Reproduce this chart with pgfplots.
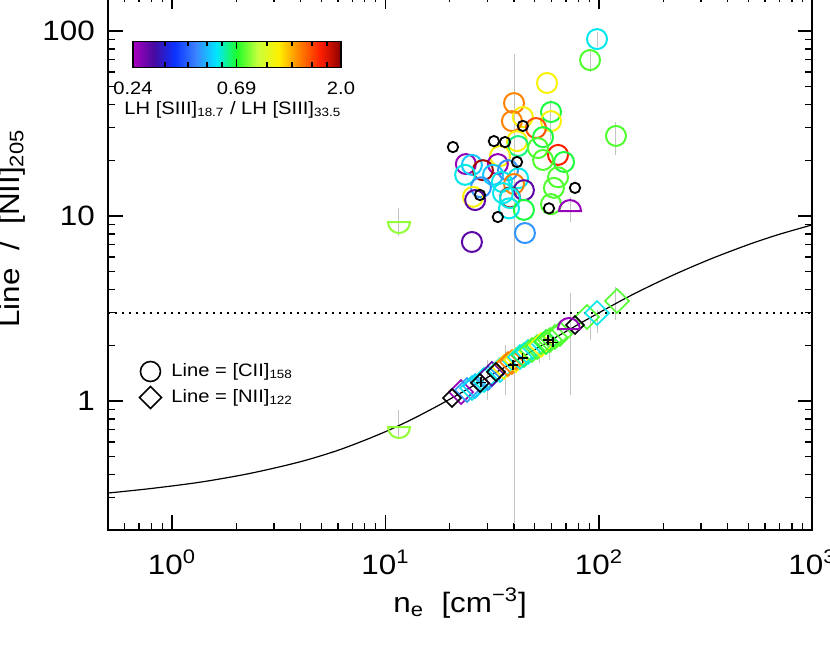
\documentclass[border=0pt]{standalone}
\usepackage{fontspec}
\setmainfont{Liberation Sans}[FakeStretch=1.12]
\usepackage{pgfplots}
\usepackage{pgfplotstable}
\pgfplotsset{compat=1.18}
\usetikzlibrary{calc}

% IDL-style marks
\pgfdeclareplotmark{dia}{%
  \pgfpathmoveto{\pgfqpoint{0pt}{\pgfplotmarksize}}%
  \pgfpathlineto{\pgfqpoint{\pgfplotmarksize}{0pt}}%
  \pgfpathlineto{\pgfqpoint{0pt}{-\pgfplotmarksize}}%
  \pgfpathlineto{\pgfqpoint{-\pgfplotmarksize}{0pt}}%
  \pgfpathclose\pgfusepathqstroke}
\pgfdeclareplotmark{uhalf}{%
  \pgfpathmoveto{\pgfqpoint{\pgfplotmarksize}{0pt}}%
  \pgfpatharc{0}{180}{\pgfplotmarksize}%
  \pgfpathclose\pgfusepathqstroke}
\pgfdeclareplotmark{lhalf}{%
  \pgfpathmoveto{\pgfqpoint{-\pgfplotmarksize}{0pt}}%
  \pgfpatharc{180}{360}{\pgfplotmarksize}%
  \pgfpathclose\pgfusepathqstroke}

% [CII] circles: n_e, ratio, S18/S33
\pgfplotstableread{
n v r
97.9 90.5 0.57
90.8 69.7 0.738
57.1 52.4 1.036
40.0 40.8 1.309
59.6 36.5 0.678
44.0 34.3 1.036
39.1 32.6 1.309
59.6 32.6 1.036
50.7 29.9 1.455
120.1 27.1 0.738
54.7 26.7 0.678
41.3 25.4 1.036
41.8 23.9 0.637
51.8 23.3 0.738
64.3 21.4 1.618
68.6 19.6 0.678
54.7 20.1 0.738
34.4 21.1 1.036
23.8 19.1 0.251
25.4 18.9 0.526
33.6 19.1 0.251
28.6 17.7 1.918
23.6 16.7 0.573
31.9 16.7 0.526
37.5 17.7 0.473
41.8 16.0 0.573
28.0 14.3 0.473
35.1 15.3 0.573
40.0 14.9 1.309
44.5 13.8 0.284
64.3 16.2 0.738
61.5 14.2 0.738
25.7 12.7 1.036
26.3 12.2 0.284
38.3 12.6 1.918
35.5 13.3 0.573
38.3 12.5 0.573
44.5 10.8 0.678
59.6 11.6 0.738
37.9 11.0 0.573
45.0 8.09 0.473
25.4 7.24 0.284
}\ciitab

\pgfplotstableread{
n v
44.0 30.7
32.2 25.4
36.3 25.1
20.7 23.6
41.3 19.6
77.2 14.2
27.7 13.0
58.3 11.0
33.6 9.88
}\ciiblack

% [NII]122 diamonds
\pgfplotstableread{
n v r
22.6 1.118 0.251
24.1 1.147 0.473
25.4 1.176 0.573
26.3 1.205 0.526
28.9 1.299 0.573
30.2 1.331 0.473
31.5 1.40 0.284
34.4 1.471 0.573
35.9 1.527 1.036
37.5 1.585 1.309
39.1 1.625 1.309
40.9 1.666 1.036
42.7 1.729 0.573
44.5 1.773 0.637
46.5 1.840 0.573
48.6 1.887 0.738
51.3 1.958 0.738
53.5 2.008 1.036
56.5 2.084 0.678
58.9 2.137 0.738
62.2 2.218 0.738
65.7 2.302 0.738
87.9 2.845 0.738
97.9 2.99 0.573
121.4 3.47 0.738
}\niitab

\pgfplotstableread{
n v
20.5 1.038
27.7 1.251
32.9 1.435
77.2 2.576
}\niiblack

\pgfplotstableread{
n v
39.6 1.565
44.0 1.708
57.7 2.137
60.9 2.08
28.0 1.26
}\crosses

% limits (half circles)
\pgfplotstableread{
n v r
11.57 9.28 0.80
11.57 0.723 0.80
}\lowhalf
\pgfplotstableread{
n v r
73.2 10.64 0.251
72.3 2.45 0.251
}\uphalf

% model curve
\pgfplotstableread{
n v
0.501 0.318
0.789 0.336
1.352 0.364
2.318 0.406
3.977 0.469
6.12 0.546
9.42 0.663
13.03 0.787
18.0 0.956
24.9 1.181
34.4 1.471
47.5 1.831
65.7 2.277
90.8 2.818
139.8 3.70
215 4.71
331 5.84
510 7.06
705 7.99
995 8.95
}\model

% error bars
\pgfplotstableread{
n v
40 75
40 0.216
nan nan
11.57 11.0
11.57 7.8
nan nan
11.57 0.894
11.57 0.64
nan nan
73.2 12.7
73.2 9.3
nan nan
73.2 3.84
73.2 1.08
nan nan
120.1 32.2
120.1 21.4
nan nan
90.8 79
90.8 60
nan nan
97.9 98.6
97.9 82
nan nan
29.9 1.67
29.9 1.01
nan nan
36.3 2.008
36.3 1.078
nan nan
52.9 2.058
52.9 1.605
nan nan
58.9 2.27
58.9 1.666
nan nan
90.8 2.74
90.8 2.137
nan nan
97.9 3.10
97.9 2.33
nan nan
120.1 4.14
120.1 2.74
nan nan
59.6 42.4
59.6 25.7
}\errs

\definecolor{errgray}{RGB}{195,195,195}

\begin{document}
\begin{tikzpicture}
\path[use as bounding box] (0,0) rectangle (415pt,322.5pt);
\clip (0,0) rectangle (415pt,322.5pt);
\begin{axis}[
  at={(53.85pt,57.35pt)}, anchor=south west,
  scale only axis, width=352.4pt, height=268pt,
  xmode=log, ymode=log,
  xmin=0.5, xmax=1000, ymin=0.2, ymax=158,
  axis line style={line width=1pt},
  tick style={line width=0.7pt, black},
  tick align=inside,
  major tick length=7.5pt, minor tick length=3.75pt,
  xtick={1,10,100,1000},
  xticklabels={10\textsuperscript{0},10\textsuperscript{1},10\textsuperscript{2},10\textsuperscript{3}},
  minor xtick={0.6,0.7,0.8,0.9,2,3,4,5,6,7,8,9,20,30,40,50,60,70,80,90,200,300,400,500,600,700,800,900},
  ytick={1,10,100}, yticklabels={1,10,100},
  minor ytick={0.3,0.4,0.5,0.6,0.7,0.8,0.9,2,3,4,5,6,7,8,9,20,30,40,50,60,70,80,90},
  xticklabel style={font=\fontsize{14}{17}\selectfont, anchor=base, inner sep=0pt, yshift=-22pt},
  yticklabel style={font=\fontsize{14}{17}\selectfont, anchor=east, inner sep=0pt, xshift=-6.25pt},
  xlabel={n\textsubscript{e}\ \ [cm\textsuperscript{−3}]},
  xlabel style={font=\fontsize{14}{17}\selectfont, at={(axis description cs:0.5,0)}, anchor=base, yshift=-41pt},
  ylabel={Line\ \ /\ \ [NII]\textsubscript{205}},
  ylabel style={font=\fontsize{14}{17}\selectfont, at={(axis description cs:-0.1256,0.563)}, anchor=base},
  colormap={idl}{rgb255=(170,0,190) rgb255=(70,10,160) rgb255=(10,50,255) rgb255=(60,130,255) rgb255=(0,230,255) rgb255=(30,255,40) rgb255=(200,255,60) rgb255=(255,240,0) rgb255=(255,130,0) rgb255=(255,30,0) rgb255=(140,0,0)},
  point meta min=-0.6198, point meta max=0.30103,
  colorbar horizontal,
  colorbar style={
    at={($(parent axis.north west)+(12.65pt,-15pt)$)}, anchor=north west,
    scale only axis, width=104pt, height=13pt,
    xmode=linear, ymode=linear,
    xmin=-0.6198, xmax=0.30103, ymin=0, ymax=1,
    xtick={-0.6198,-0.1612,0.30103}, xticklabels={0.24,0.69,2.0},
    minor xtick={-0.478,-0.376,-0.292,-0.226,-0.0266,0.084,0.173,0.239},
    ytick=\empty, minor ytick={},
    xtick align=inside, xticklabel pos=lower, xtick pos=both,
    major tick length=4pt, minor tick length=2.5pt,
    axis line style={line width=0.8pt},
    every x tick label/.style={font=\fontsize{9}{11}\selectfont, anchor=base, inner sep=0pt, yshift=-13.5pt},
    xlabel={LH\ [SIII]\textsubscript{18.7}\ /\ LH\ [SIII]\textsubscript{33.5}},
    every axis x label/.style={font=\fontsize{9}{11}\selectfont, at={(axis description cs:0.48,0)}, anchor=base, inner sep=0pt, yshift=-23.5pt},
  },
  legend style={draw=none, fill=none, at={(0.036,0.272)}, anchor=west,
    font=\fontsize{9}{11}\selectfont, row sep=1pt, column sep=3pt},
  legend cell align=left,
]
\addlegendimage{only marks, mark=o, mark size=5pt, black, line width=0.8pt}
\addlegendentry{Line\ =\ [CII]\textsubscript{158}}
\addlegendimage{only marks, mark=dia, mark size=5.5pt, black, line width=0.8pt}
\addlegendentry{Line\ =\ [NII]\textsubscript{122}}

\addplot[errgray, line width=0.5pt, unbounded coords=jump] table[x=n, y=v] {\errs};

\addplot[black, line width=1pt, dash pattern=on 1pt off 2.5pt] coordinates {(0.5,3) (1000,3)};

% [NII]122 diamonds
\addplot[scatter, only marks, mark=dia, mark size=6pt, line width=0.8pt,
  scatter/use mapped color={draw=mapped color, fill=none},
  point meta={ln(\thisrow{r})/ln(10)}] table[x=n, y=v] {\niitab};
\addplot[only marks, mark=dia, mark size=4.5pt, line width=0.8pt, black] table[x=n, y=v] {\niiblack};
\addplot[only marks, mark=+, mark size=2.5pt, line width=0.6pt, black] table[x=n, y=v] {\crosses};

\addplot[black, line width=0.6pt, smooth] table[x=n, y=v] {\model};

% [CII]158 circles
\addplot[scatter, only marks, mark=o, mark size=5pt, line width=1pt,
  scatter/use mapped color={draw=mapped color, fill=none},
  point meta={ln(\thisrow{r})/ln(10)}] table[x=n, y=v] {\ciitab};
\addplot[only marks, mark=o, mark size=2.6pt, line width=0.9pt, black] table[x=n, y=v] {\ciiblack};

\addplot[scatter, only marks, mark=lhalf, mark size=5.5pt, line width=1pt,
  scatter/use mapped color={draw=mapped color, fill=none},
  point meta={ln(\thisrow{r})/ln(10)}] table[x=n, y=v] {\lowhalf};
\addplot[scatter, only marks, mark=uhalf, mark size=5.5pt, line width=1pt,
  scatter/use mapped color={draw=mapped color, fill=none},
  point meta={ln(\thisrow{r})/ln(10)}] table[x=n, y=v] {\uphalf};
\end{axis}
\end{tikzpicture}
\end{document}
